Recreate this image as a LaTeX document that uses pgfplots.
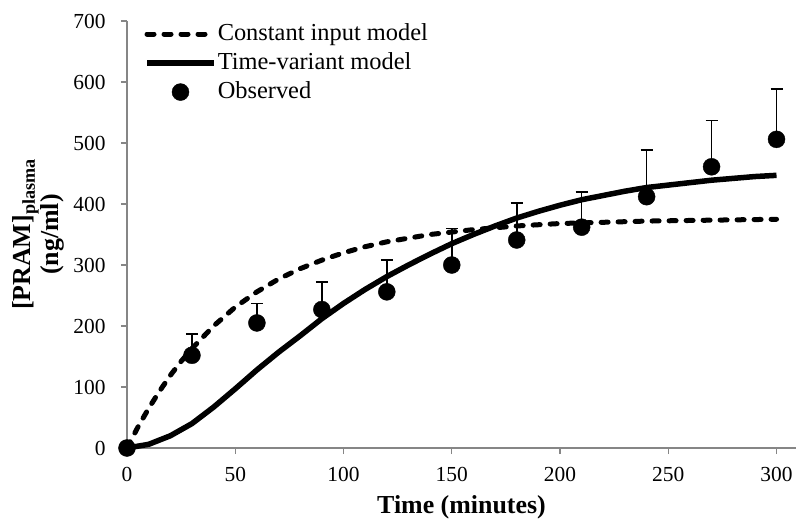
\documentclass[border=0pt]{standalone}
\usepackage{fontspec}
\setmainfont{Liberation Serif}
\usepackage{pgfplots}
\usepackage{pgfplotstable}
\pgfplotsset{compat=1.18}
\definecolor{axisgray}{RGB}{134,134,134}
\newcommand{\tl}[1]{\mbox{\fontsize{21.5}{24}\selectfont #1}}

\pgfplotstableread{
t c
0 0
5 34
10 65
15 93
20 119
25 142
30 163
40 200
50 231
60 256
70 277
80 294
90 308
100 320
110 330
120 338
130 344
140 350
150 354
160 358
170 361
180 364
200 368
220 370
240 372
260 373
280 374
300 375
}\constant

\pgfplotstableread{
t c
0 0
10 6
20 20
30 40
40 67
50 97
60 128
70 157
80 184
90 212
100 237
110 260
120 281
130 300
140 318
150 335
160 350
170 364
180 377
190 388
200 398
210 407
220 414
230 421
240 427
250 431
260 435
270 439
280 442
290 445
300 447
}\variant

\pgfplotstableread{
t c e
0 0 0
30 152 35
60 205 32
90 227 45
120 256 52
150 300 60
180 341 61
210 362 58
240 412 77
270 461 76
300 506 83
}\observed

\begin{document}
\begin{tikzpicture}
\begin{axis}[
  scale only axis, width=669bp, height=427bp,
  xmin=0, xmax=309, ymin=0, ymax=700,
  axis x line=bottom, axis y line=left,
  axis line style={draw=axisgray, line width=1.5bp, -},
  xtick={0,50,100,150,200,250,300}, ytick={0,100,200,300,400,500,600,700},
  xticklabels={\tl{0},\tl{50},\tl{100},\tl{150},\tl{200},\tl{250},\tl{300}},
  yticklabels={\tl{0},\tl{100},\tl{200},\tl{300},\tl{400},\tl{500},\tl{600},\tl{700}},
  tick align=outside, major tick length=6bp,
  tick style={draw=axisgray, line width=1.3bp},
  xticklabel style={yshift=-10bp},
  yticklabel style={xshift=-12bp},
  xlabel={Time (minutes)},
  xlabel style={yshift=-7bp},
  ylabel={[PRAM]\textsubscript{plasma}\\(ng/ml)},
  ylabel style={align=center, yshift=2bp},
  label style={font=\fontsize{26}{28}\selectfont\bfseries},
  clip=false,
  legend image code/.code={\draw[mark repeat=2,mark phase=2,#1] plot coordinates {(0bp,0bp) (33.5bp,0bp) (67bp,0bp)};},
  legend style={at={(axis description cs:0.0255,0.998)}, anchor=north west, draw=none, fill=none,
    font=\fontsize{24.5}{26}\selectfont, inner sep=0pt, row sep=5bp,
    nodes={inner sep=1bp, text height=17bp, text depth=5bp}},
  legend cell align=left,
]
\addplot[black, line width=5bp, line cap=round, dash pattern=on 7bp off 10bp] table[x=t, y=c] {\constant};
\addlegendentry{Constant input model}
\addplot[black, line width=5.5bp] table[x=t, y=c] {\variant};
\addlegendentry{Time-variant model}
\addplot[black, only marks, mark=*, mark size=8.5bp,
  error bars/.cd, y dir=plus, y explicit,
  error bar style={line width=1.6bp, black},
  error mark options={rotate=90, mark size=6bp, line width=1.6bp, black}]
  table[x=t, y=c, y error=e] {\observed};
\addlegendentry{Observed}
\end{axis}
\pgfresetboundingbox
\path (current axis.south west) ++(-127bp,-71bp) rectangle ++(796bp,519bp);
\end{tikzpicture}
\end{document}
